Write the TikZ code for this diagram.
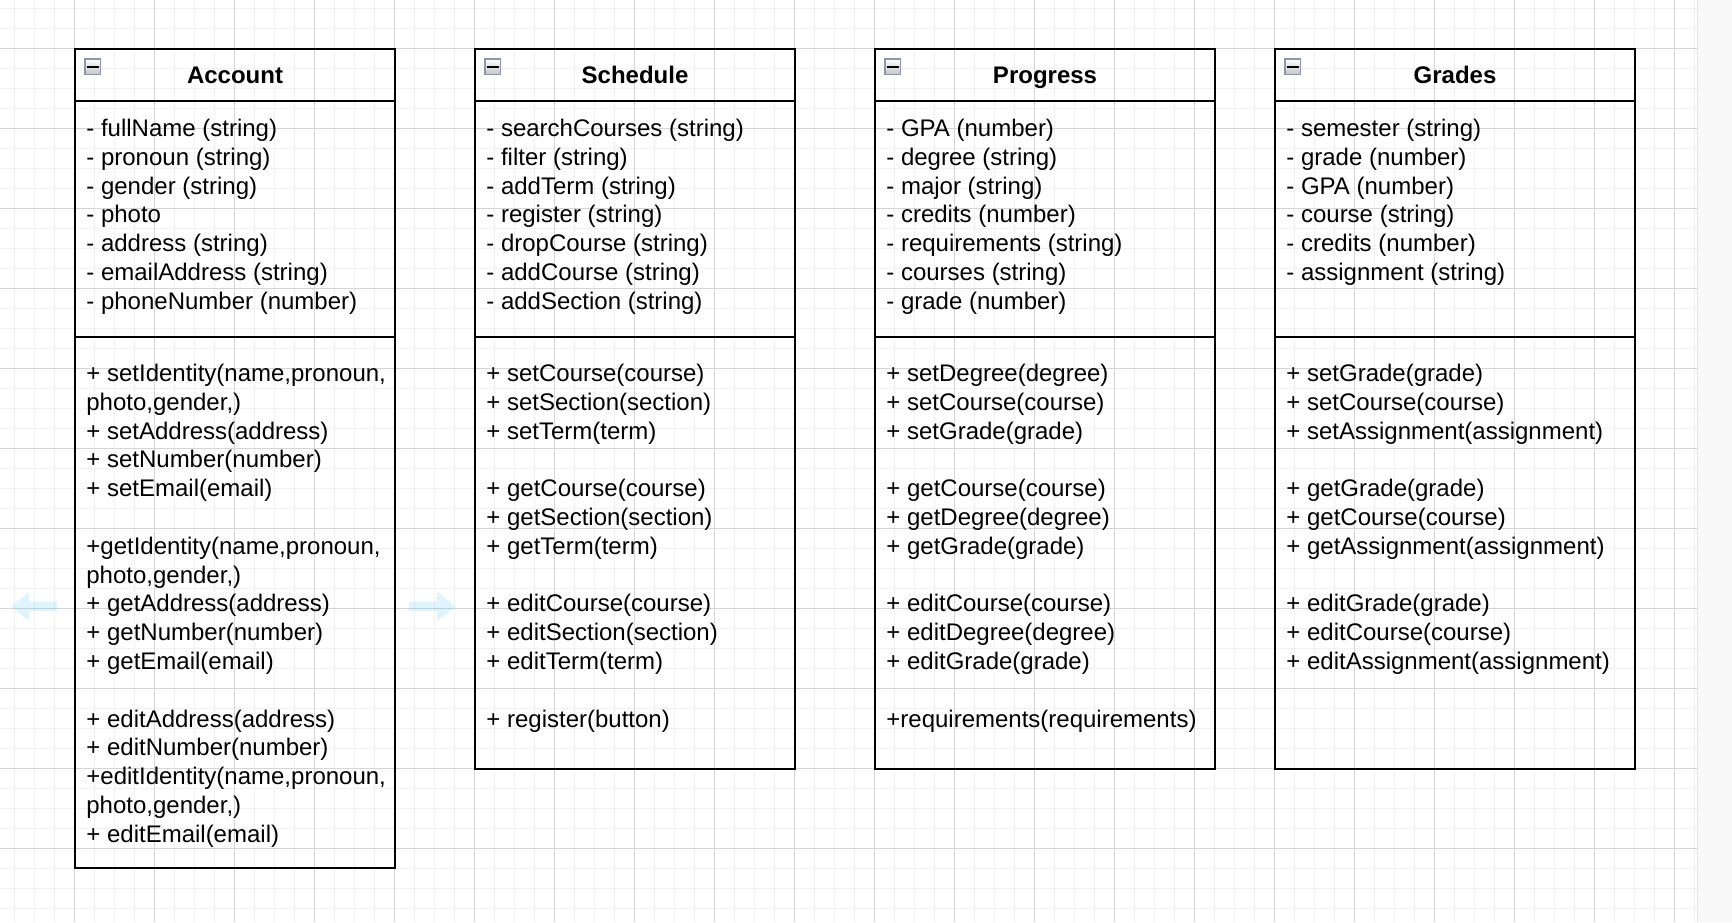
\documentclass[tikz,border=0pt]{standalone}
\usepackage{fontspec}
\setmainfont{Liberation Sans}
\usetikzlibrary{positioning}
\definecolor{gridminor}{HTML}{F1F1F1}
\definecolor{gridmajor}{HTML}{D5D5D5}
\definecolor{hoverblue}{HTML}{29B6F2}
\definecolor{togglegray}{HTML}{8E95A6}
\definecolor{sidestrip}{HTML}{F9F9F9}

\begin{document}
\begin{tikzpicture}[x=0.5pt,y=-0.5pt,
    every node/.style={font=\fontsize{12}{14.4}\selectfont},
    classbox/.style={draw,line width=1pt,inner sep=0pt,outer sep=0pt},
    classhead/.style={classbox,minimum height=26pt,text height=8.6pt,text depth=0pt,
                      font=\fontsize{12}{14.4}\selectfont\bfseries},
    members/.style={align=left,inner sep=0pt,anchor=north west},
    toggle/.style={draw=togglegray,line width=0.75pt,top color=white,bottom color=gray!45,
                   minimum size=7.75pt,inner sep=0pt},
    hover/.style={fill=hoverblue,fill opacity=0.15,draw=none}]
  \useasboundingbox (0,0) rectangle (1732,922);
  % canvas grid
  \fill[sidestrip] (1697,0) rectangle (1732,922);
  \draw[line width=0.5pt,black!10] (1697.5,0) -- (1697.5,922);
  \foreach \x in {14,34,...,1694}
    \draw[gridminor,line width=0.5pt] (\x,0) -- (\x,922);
  \foreach \y in {8,28,...,908}
    \draw[gridminor,line width=0.5pt] (0,\y) -- (1697,\y);
  \foreach \x in {74,154,...,1674}
    \draw[gridmajor,line width=0.5pt] (\x,0) -- (\x,922);
  \foreach \y in {48,128,...,848}
    \draw[gridmajor,line width=0.5pt] (0,\y) -- (1697,\y);

  % hover arrows beside Account
  \fill[hover] (57,601.5) -- (29,601.5) -- (29,592) -- (11,606.5) -- (29,621) -- (29,611) -- (57,611) -- cycle;
  \fill[hover] (409,601.5) -- (437,601.5) -- (437,592) -- (456,606.5) -- (437,621) -- (437,611) -- (409,611) -- cycle;

  % class headers
  \node[classhead,minimum width=160pt,anchor=north west] (acc-head) at (75,49) {Account};
  \node[classhead,minimum width=160pt,right=40pt of acc-head] (sch-head) {Schedule};
  \node[classhead,minimum width=170pt,right=40pt of sch-head] (prog-head) {Progress};
  \node[classhead,minimum width=180pt,right=30pt of prog-head] (grd-head) {Grades};

  % attribute and method compartments
  \node[classbox,minimum width=160pt,minimum height=118pt,below=0pt of acc-head] (acc-attr) {};
  \node[classbox,minimum width=160pt,minimum height=265.5pt,below=0pt of acc-attr] (acc-meth) {};
  \node[classbox,minimum width=160pt,minimum height=118pt,below=0pt of sch-head] (sch-attr) {};
  \node[classbox,minimum width=160pt,minimum height=216pt,below=0pt of sch-attr] (sch-meth) {};
  \node[classbox,minimum width=170pt,minimum height=118pt,below=0pt of prog-head] (prog-attr) {};
  \node[classbox,minimum width=170pt,minimum height=216pt,below=0pt of prog-attr] (prog-meth) {};
  \node[classbox,minimum width=180pt,minimum height=118pt,below=0pt of grd-head] (grd-attr) {};
  \node[classbox,minimum width=180pt,minimum height=216pt,below=0pt of grd-attr] (grd-meth) {};

  % collapse toggles
  \foreach \c in {acc,sch,prog,grd} {
    \node[toggle] (\c-tog) at ([xshift=8.75pt,yshift=-8.75pt]\c-head.north west) {};
    \draw[line width=1pt] ([xshift=1.25pt]\c-tog.west) -- ([xshift=-1.25pt]\c-tog.east);
  }

  % Account
  \node[members] (acc-fields) at ([xshift=5.5pt,yshift=-7.42pt]acc-attr.north west)
    {\strut- fullName (string)\\- pronoun (string)\\- gender (string)\\- photo\\
     - address (string)\\- emailAddress (string)\\- phoneNumber (number)};
  \node[members] (acc-ops) at ([xshift=5.5pt,yshift=-11.92pt]acc-meth.north west)
    {\strut+ setIdentity(name,pronoun,\\photo,gender,)\\+ setAddress(address)\\
     + setNumber(number)\\+ setEmail(email)\\[14.4pt]
     +getIdentity(name,pronoun,\\photo,gender,)\\+ getAddress(address)\\
     + getNumber(number)\\+ getEmail(email)\\[14.4pt]
     + editAddress(address)\\+ editNumber(number)\\
     +editIdentity(name,pronoun,\\photo,gender,)\\+ editEmail(email)};

  % Schedule
  \node[members] (sch-fields) at ([xshift=5.5pt,yshift=-7.42pt]sch-attr.north west)
    {\strut- searchCourses (string)\\- filter (string)\\- addTerm (string)\\- register (string)\\
     - dropCourse (string)\\- addCourse (string)\\- addSection (string)};
  \node[members] (sch-ops) at ([xshift=5.5pt,yshift=-11.92pt]sch-meth.north west)
    {\strut+ setCourse(course)\\+ setSection(section)\\+ setTerm(term)\\[14.4pt]
     + getCourse(course)\\+ getSection(section)\\+ getTerm(term)\\[14.4pt]
     + editCourse(course)\\+ editSection(section)\\+ editTerm(term)\\[14.4pt]
     + register(button)};

  % Progress
  \node[members] (prog-fields) at ([xshift=5.5pt,yshift=-7.42pt]prog-attr.north west)
    {\strut- GPA (number)\\- degree (string)\\- major (string)\\- credits (number)\\
     - requirements (string)\\- courses (string)\\- grade (number)};
  \node[members] (prog-ops) at ([xshift=5.5pt,yshift=-11.92pt]prog-meth.north west)
    {\strut+ setDegree(degree)\\+ setCourse(course)\\+ setGrade(grade)\\[14.4pt]
     + getCourse(course)\\+ getDegree(degree)\\+ getGrade(grade)\\[14.4pt]
     + editCourse(course)\\+ editDegree(degree)\\+ editGrade(grade)\\[14.4pt]
     +requirements(requirements)};

  % Grades
  \node[members] (grd-fields) at ([xshift=5.5pt,yshift=-7.42pt]grd-attr.north west)
    {\strut- semester (string)\\- grade (number)\\- GPA (number)\\- course (string)\\
     - credits (number)\\- assignment (string)};
  \node[members] (grd-ops) at ([xshift=5.5pt,yshift=-11.92pt]grd-meth.north west)
    {\strut+ setGrade(grade)\\+ setCourse(course)\\+ setAssignment(assignment)\\[14.4pt]
     + getGrade(grade)\\+ getCourse(course)\\+ getAssignment(assignment)\\[14.4pt]
     + editGrade(grade)\\+ editCourse(course)\\+ editAssignment(assignment)};
\end{tikzpicture}
\end{document}
